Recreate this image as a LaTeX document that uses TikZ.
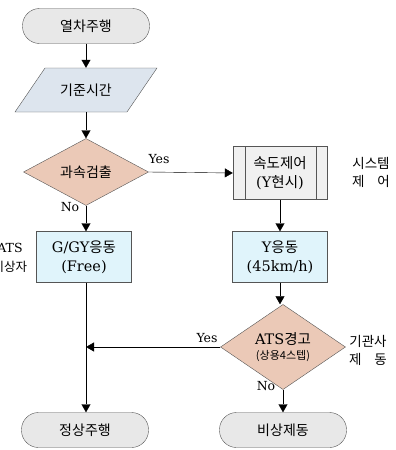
\documentclass[tikz,border=0pt]{standalone}
\usepackage{fontspec}
\setmainfont{DejaVu Serif}
\newfontfamily\kr{Noto Sans CJK KR}
\usetikzlibrary{shapes.geometric,arrows.meta}
\definecolor{termfill}{HTML}{E8E8E8}
\definecolor{parafill}{HTML}{DDE5EE}
\definecolor{decfill}{HTML}{EBC9B7}
\definecolor{procfill}{HTML}{E0F4FB}
\definecolor{subfill}{HTML}{F0F0F0}
\definecolor{edge}{HTML}{555555}
\tikzset{
  term/.style={draw=edge, fill=termfill, rectangle, rounded corners=17pt, minimum width=127pt, minimum height=35pt, inner sep=0pt, font=\fontsize{14}{16}\selectfont\kr},
  paratext/.style={rectangle, minimum width=112pt, minimum height=44pt, inner sep=0pt, font=\fontsize{14}{16}\selectfont\kr},
  parashape/.style={draw=edge, fill=parafill},
  dec/.style={draw=edge, fill=decfill, diamond, minimum width=125pt, minimum height=67pt, inner sep=0pt, align=center},
  proc/.style={draw=edge, fill=procfill, rectangle, minimum width=95pt, minimum height=51pt, inner sep=0pt, align=center, font=\fontsize{14.5}{19}\selectfont},
  sub/.style={draw=edge, fill=subfill, rectangle, minimum width=94pt, minimum height=53pt, inner sep=0pt, align=center, font=\fontsize{14.5}{19}\selectfont},
  flow/.style={draw=black, -{Triangle[width=9pt,length=8pt]}},
  lbl/.style={font=\fontsize{12.5}{14}\selectfont, inner sep=0pt},
  side/.style={font=\fontsize{13.5}{18}\selectfont\kr, align=center, inner sep=0pt}
}
\begin{document}
\begin{tikzpicture}[x=1pt,y=-1pt]
\useasboundingbox (0,0) rectangle (396,450);
% start
\node[term] (start) at (86,26) {열차주행};
% parallelogram
\draw[parashape] (15,112) -- (45,68) -- (157,68) -- (127,112) -- cycle;
\node[paratext] (ref) at (86,90) {기준시간};
% decision 1
\node[dec, font=\fontsize{14}{16}\selectfont\kr] (dec1) at (86,172) {과속검출};
% speed control
\node[sub] (sok) at (280,173) {{\kr 속도제어}\\(Y{\kr 현시})};
\draw[edge] ([xshift=12pt]sok.north west) -- ([xshift=12pt]sok.south west);
\draw[edge] ([xshift=-11pt]sok.north east) -- ([xshift=-11pt]sok.south east);
\node[side] (sys) at (371,172) {시스템\\제\hspace{13pt}어};
% process boxes
\node[proc] (ggy) at (84,257) {G/GY{\kr 응동}\\(Free)};
\node[proc] (yb) at (280,257) {Y{\kr 응동}\\(45km/h)};
\node[side, font=\fontsize{12.5}{19}\selectfont\kr] (atsside) at (10,258) {{\fontspec{DejaVu Serif}ATS}\\비상자};
% decision 2
\node[dec] (ats) at (283,347) {{\fontsize{14.5}{17}\selectfont ATS{\kr 경고}}\\[3pt]{\fontsize{11}{13}\selectfont\kr (상용4스텝)}};
\node[side] (eng) at (368,350) {기관사\\제\hspace{13pt}동};
% end nodes
\node[term] (normal) at (85,430) {정상주행};
\node[term] (emerg) at (283,430) {비상제동};
\coordinate (join) at (86,347);
% connectors
\draw[flow] (start.south) -- (ref.north);
\draw[flow] (ref.south) -- (dec1.north);
\draw[flow] (dec1.east) -- (sok.west);
\node[lbl] (yes1) at (159,159) {Yes};
\draw[flow] (dec1.south) -- (ggy.north -| dec1.south);
\node[lbl] (no1) at (70,207) {No};
\draw[flow] (sok.south) -- (yb.north);
\draw[flow] (yb.south) -- (ats.north -| yb.south);
\draw[flow] (ats.west) -- (join);
\node[lbl] (yes2) at (207,338) {Yes};
\draw[flow] (ggy.south -| dec1.south) -- (normal.north -| dec1.south);
\draw[flow] (ats.south) -- (emerg.north);
\node[lbl] (no2) at (266,386) {No};
\end{tikzpicture}
\end{document}
